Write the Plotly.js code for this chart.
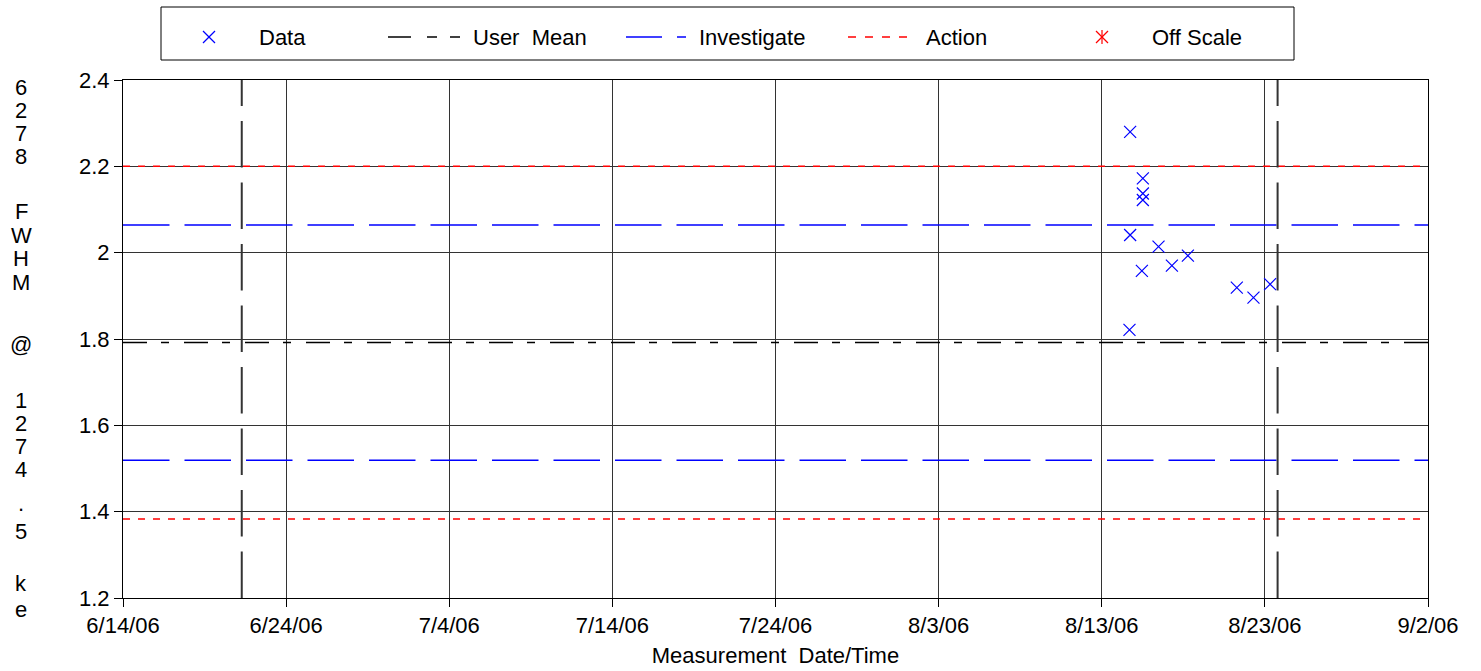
<!DOCTYPE html>
<html><head><meta charset="utf-8">
<script src="https://cdn.plot.ly/plotly-3.0.1.min.js"></script>
<style>body{margin:0;background:#fff}#chart{width:1481px;height:671px}</style>
</head><body><div id="chart"></div>
<script>
// ---- data ----
const dataDates = ['2006-08-14 17:46','2006-08-14 17:46','2006-08-14 16:48','2006-08-15 12:28','2006-08-15 12:28','2006-08-15 12:28','2006-08-15 11:02','2006-08-16 11:31','2006-08-17 07:12','2006-08-18 06:43','2006-08-21 06:43','2006-08-22 07:12','2006-08-23 07:41'];
const dataValues = [2.280, 2.041, 1.821, 2.172, 2.137, 2.122, 1.958, 2.014, 1.970, 1.993, 1.919, 1.896, 1.927];
const userMean = 1.792;
const investigateLimits = [2.064, 1.519];
const actionLimits = [2.2, 1.383];
const eventDates = ['2006-06-21 06:43', '2006-08-23 18:43'];
const xRange = ['2006-06-14', '2006-09-02'];
const yRange = [1.2, 2.4];
const yTickStep = 0.2;
const xTickDays = 10;
const legendLabels = ['Data', 'User  Mean', 'Investigate', 'Action', 'Off Scale'];
const yTitleText = '6278 FWHM @ 1274.5 ke';
const xTitleText = 'Measurement  Date/Time';

// ---- layout helpers (pixel geometry) ----
const W = 1481, H = 671, M = {l: 123, r: 53, t: 80, b: 73};
const PW = W - M.l - M.r, PH = H - M.t - M.b;
const px = x => (x - M.l) / PW;
const py = y => (H - M.b - y) / PH;
const FONT = 'Liberation Sans, Arial, sans-serif';

const traces = [];
function hline(v, color, dash, width) {
  traces.push({x: xRange, y: [v, v], mode: 'lines', showlegend: false, hoverinfo: 'skip',
    line: {color: color, dash: dash, width: width}});
}
actionLimits.forEach(v => hline(v, '#ff0000', '7px,8px', 1.5));
investigateLimits.forEach(v => hline(v, '#0000ff', '46.5px,15px', 1.5));
hline(userMean, '#000000', '24px,14px,8px,15px', 1.5);
eventDates.forEach(d => traces.push({x: [d, d], y: [yRange[0], yRange[1]], mode: 'lines', showlegend: false,
  hoverinfo: 'skip', line: {color: '#333333', dash: '46.5px,15px', width: 2}}));
traces.push({x: dataDates, y: dataValues, mode: 'markers', showlegend: false,
  marker: {symbol: 'x-thin-open', size: 12, color: '#0000ff', line: {color: '#0000ff', width: 1.2}}});

// ---- manual legend ----
const shapes = [];
const annotations = [];
shapes.push({type: 'rect', xref: 'paper', yref: 'paper', x0: px(161), x1: px(1294), y0: py(7), y1: py(60),
  line: {color: '#000', width: 1}, fillcolor: 'rgba(0,0,0,0)'});
function seg(x0, y0, x1, y1, color, width, dash) {
  shapes.push({type: 'line', xref: 'paper', yref: 'paper', x0: px(x0), x1: px(x1), y0: py(y0), y1: py(y1),
    line: {color: color, width: width, dash: dash || 'solid'}});
}
const LY = 37;
// Data marker
seg(203, LY - 6, 215, LY + 6, '#0000ff', 1.2); seg(203, LY + 6, 215, LY - 6, '#0000ff', 1.2);
// User Mean
seg(388, LY, 411, LY, '#000', 1.5); seg(427, LY, 437, LY, '#000', 1.5); seg(450, LY, 460, LY, '#000', 1.5);
// Investigate
seg(626, LY, 662, LY, '#0000ff', 1.5); seg(677, LY, 686, LY, '#0000ff', 1.5);
// Action
seg(848, LY, 912, LY, '#ff0000', 1.5, '8px,9px');
// Off scale asterisk
seg(1096, LY - 6, 1108, LY + 6, '#ff0000', 1.2); seg(1096, LY + 6, 1108, LY - 6, '#ff0000', 1.2);
seg(1102, LY - 7, 1102, LY + 7, '#ff0000', 1.2);
const legendTextX = [257, 471, 697, 924, 1150];
legendLabels.forEach((t, i) => annotations.push({text: t, xref: 'paper', yref: 'paper', x: px(legendTextX[i]),
  y: py(LY), xanchor: 'left', yanchor: 'middle', showarrow: false, font: {family: FONT, size: 22, color: '#000'}}));

// ---- stacked y-axis title ----
const yTitleCenters = [87.5, 110.5, 133.5, 156.5, 211.5, 235.5, 258.5, 282.5, 344, 400.5, 423.5, 446.5, 469.5, 503, 531.5, 583, 609];
let k = 0;
for (const ch of yTitleText) {
  if (ch === ' ') continue;
  annotations.push({text: ch, xref: 'paper', yref: 'paper', x: px(21), y: py(yTitleCenters[k]),
    xanchor: 'center', yanchor: 'middle', showarrow: false, font: {family: FONT, size: 22, color: '#000'}});
  k++;
}

const axisCommon = {showline: true, linecolor: '#000', linewidth: 1, mirror: true, ticks: 'outside', ticklen: 8,
  tickcolor: '#000', showgrid: true, gridcolor: '#333', gridwidth: 1, zeroline: false,
  tickfont: {family: FONT, size: 22, color: '#000'}};

const layout = {
  width: W, height: H, margin: M, paper_bgcolor: '#fff', plot_bgcolor: '#fff', showlegend: false,
  font: {family: FONT, size: 22, color: '#000'},
  xaxis: Object.assign({}, axisCommon, {type: 'date', range: xRange, tick0: xRange[0], dtick: xTickDays * 86400000,
    tickformat: '%-m/%-d/%y', title: {text: xTitleText, font: {family: FONT, size: 22, color: '#000'}, standoff: 10}}),
  yaxis: Object.assign({}, axisCommon, {range: yRange, tick0: yRange[0], dtick: yTickStep}),
  shapes: shapes, annotations: annotations
};
Plotly.newPlot('chart', traces, layout, {displayModeBar: false, staticPlot: true});
</script></body></html>
